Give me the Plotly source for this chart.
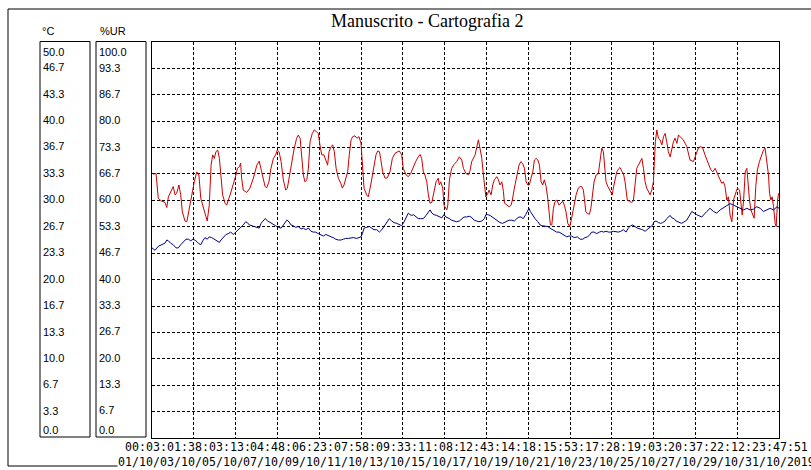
import pandas as pd
import plotly.graph_objects as go

W, H = 811, 470
PL, PR, PT, PB = 152, 779, 42, 438   # plot area in pixels

title = "Manuscrito - Cartografia 2"

# x-axis tick labels (date / time of each vertical grid line)
tick_dates = ["01/10/2019", "03/10/2019", "05/10/2019", "07/10/2019", "09/10/2019", "11/10/2019",
              "13/10/2019", "15/10/2019", "17/10/2019", "19/10/2019", "21/10/2019", "23/10/2019",
              "25/10/2019", "27/10/2019", "29/10/2019", "31/10/2019"]
tick_times = ["00:03:51", "01:38:47", "03:13:43", "04:48:39", "06:23:35", "07:58:31",
              "09:33:27", "11:08:23", "12:43:19", "14:18:15", "15:53:11", "17:28:07",
              "19:03:03", "20:37:59", "22:12:55", "23:47:51"]

temp_labels = ["0.0", "3.3", "6.7", "10.0", "13.3", "16.7", "20.0", "23.3",
               "26.7", "30.0", "33.3", "36.7", "40.0", "43.3", "46.7", "50.0"]
hum_labels = ["0.0", "6.7", "13.3", "20.0", "26.7", "33.3", "40.0", "46.7",
              "53.3", "60.0", "66.7", "73.3", "80.0", "86.7", "93.3", "100.0"]

# relative humidity (%UR), x = days since first reading
hum_day = [0.07, 0.20, 0.31, 0.48, 0.64, 0.73, 0.81, 0.92, 1.05, 1.14, 1.22, 1.33, 1.42, 1.50, 1.63, 1.72,
           1.84, 1.96, 2.09, 2.21, 2.32, 2.41, 2.51, 2.62, 2.73, 2.83, 2.92, 3.00, 3.08, 3.16, 3.25, 3.33,
           3.40, 3.49, 3.61, 3.69, 3.86, 4.02, 4.15, 4.22, 4.32, 4.38, 4.43, 4.51, 4.68, 4.84, 5.01, 5.18,
           5.30, 5.42, 5.59, 5.67, 5.78, 5.88, 6.00, 6.11, 6.19, 6.28, 6.38, 6.49, 6.61, 6.69, 6.79, 6.91,
           7.03, 7.15, 7.23, 7.32, 7.40, 7.48, 7.56, 7.65, 7.73, 7.81, 7.92, 8.02, 8.14, 8.22, 8.30, 8.39,
           8.50, 8.60, 8.68, 8.75, 8.85, 8.93, 9.01, 9.10, 9.21, 9.33, 9.41, 9.49, 9.57, 9.67, 9.75, 9.84,
           9.92, 10.03, 10.13, 10.23, 10.33, 10.40, 10.48, 10.61, 10.69, 10.81, 10.94, 11.07, 11.16, 11.24,
           11.30, 11.40, 11.52, 11.63, 11.76, 11.88, 12.01, 12.13, 12.22, 12.34, 12.42, 12.56, 12.67, 12.79,
           12.92, 13.03, 13.16, 13.25, 13.33, 13.41, 13.49, 13.58, 13.66, 13.74, 13.83, 13.94, 14.04, 14.15,
           14.20, 14.27, 14.37, 14.43, 14.50, 14.57, 14.62, 14.70, 14.81, 14.93, 15.06, 15.19, 15.31, 15.39,
           15.52, 15.64, 15.72, 15.80, 15.97, 16.05, 16.13, 16.21, 16.30, 16.38, 16.43, 16.50, 16.60, 16.66,
           16.76, 16.84, 16.92, 17.04, 17.12, 17.20, 17.29, 17.37, 17.42, 17.53, 17.65, 17.75, 17.81, 17.91,
           17.98, 18.08, 18.14, 18.23, 18.31, 18.41, 18.49, 18.57, 18.65, 18.73, 18.82, 18.90, 18.98, 19.07,
           19.15, 19.23, 19.31, 19.39, 19.48, 19.56, 19.62, 19.69, 19.76, 19.84, 19.92, 20.00, 20.12, 20.22,
           20.30, 20.38, 20.46, 20.55, 20.65, 20.74, 20.84, 20.91, 20.96, 21.07, 21.16, 21.24, 21.32, 21.37,
           21.44, 21.52, 21.62, 21.69, 21.78, 21.85, 21.95, 22.06, 22.14, 22.23, 22.31, 22.36, 22.44, 22.53,
           22.61, 22.67, 22.75, 22.80, 22.89, 22.97, 23.05, 23.13, 23.22, 23.30, 23.38, 23.43, 23.49, 23.59,
           23.71, 23.79, 23.87, 23.96, 24.04, 24.12, 24.21, 24.29, 24.37, 24.45, 24.54, 24.62, 24.70, 24.78,
           24.83, 24.88, 24.95, 25.03, 25.11, 25.20, 25.28, 25.36, 25.44, 25.52, 25.61, 25.69, 25.77, 25.85,
           25.94, 26.02, 26.10, 26.26, 26.43, 26.59, 26.76, 26.89, 27.00, 27.12, 27.22, 27.33, 27.45, 27.55,
           27.62, 27.72, 27.83, 27.91, 27.99, 28.08, 28.16, 28.24, 28.32, 28.41, 28.49, 28.57, 28.66, 28.74,
           28.87, 28.94, 29.04, 29.10, 29.17, 29.24, 29.32, 29.40, 29.45, 29.53, 29.60, 29.70, 29.76, 29.84,
           29.92, 30.02, 30.14, 30.22, 30.30, 30.39, 30.47, 30.52, 30.59, 30.65, 30.72, 30.80, 30.85, 30.92,
           30.97]
hum_val = [66.6, 66.8, 60.5, 59.8, 59.5, 58.2, 60.9, 62.2, 63.5, 61.4, 61.8, 63.9, 61.4, 57.1, 54.8, 54.6,
           58.0, 60.5, 64.7, 67.2, 66.4, 60.5, 58.8, 56.3, 54.8, 58.8, 68.9, 71.5, 70.6, 72.3, 72.7, 70.6,
           66.4, 61.4, 59.3, 58.8, 61.4, 63.9, 66.4, 68.1, 68.5, 69.4, 65.6, 62.6, 62.0, 63.1, 65.6, 68.9,
           69.9, 67.2, 63.5, 63.2, 64.7, 68.1, 70.6, 71.5, 72.7, 72.3, 69.8, 65.2, 62.6, 63.1, 66.4, 70.2,
           73.2, 75.7, 76.5, 75.7, 70.6, 66.4, 64.7, 65.2, 68.1, 74.8, 76.9, 77.8, 77.3, 76.9, 74.0, 71.5,
           71.5, 69.8, 68.9, 72.3, 73.6, 74.0, 72.3, 68.1, 65.6, 64.3, 63.1, 63.9, 65.6, 67.2, 71.5, 75.3,
           76.1, 76.3, 75.7, 76.1, 74.4, 68.9, 63.1, 61.4, 60.9, 63.9, 68.1, 71.5, 72.5, 72.3,
           70.6, 67.2, 65.6, 65.7, 67.2, 70.6, 71.9, 72.3, 72.5, 71.5, 68.1, 66.4, 66.0, 66.8,
           68.5, 69.8, 71.0, 71.6, 70.6, 67.2, 66.4, 64.7, 61.4, 59.3, 59.5, 62.6, 64.7, 65.6,
           63.9, 64.7, 63.1, 58.8, 58.0, 57.6, 58.8, 65.2, 68.1, 69.1, 69.8, 71.0, 70.2, 68.1,
           66.8, 66.5, 67.5, 69.8, 71.5, 73.6, 75.3, 73.2, 70.6, 66.4, 63.1, 60.9, 61.8, 62.6,
           61.4, 63.9, 65.2, 66.0, 65.2, 63.9, 64.7, 62.2, 59.3, 58.8, 58.4, 58.8, 60.1, 63.1,
           64.7, 67.7, 68.9, 69.8, 69.4, 68.1, 64.7, 63.9, 63.9, 65.6, 67.2, 70.2, 70.6, 70.2,
           68.9, 64.7, 63.9, 65.2, 63.5, 60.5, 57.1, 53.8, 53.8, 58.0, 59.7, 60.1, 58.8, 59.3,
           59.8, 58.8, 57.1, 54.2, 53.4, 55.5, 58.4, 60.1, 61.4, 63.1, 63.5, 63.5, 62.6, 60.5,
           57.1, 56.7, 56.5, 58.0, 61.4, 64.7, 66.4, 66.8, 69.8, 73.2, 72.3, 69.8, 64.7, 63.5,
           62.6, 62.2, 61.4, 63.1, 65.6, 67.2, 67.9, 68.3, 67.4, 66.8, 64.7, 62.2, 60.1, 59.8,
           59.5, 59.8, 64.7, 68.1, 68.9, 69.8, 70.6, 68.1, 64.7, 63.1, 62.2, 61.4, 62.6, 64.7,
           69.8, 74.8, 77.8, 75.7, 75.3, 74.0, 76.1, 76.9, 74.8, 72.3, 71.0, 73.2, 74.8, 75.7,
           74.4, 76.5, 76.1, 75.3, 73.6, 70.2, 69.8, 71.9, 73.2, 73.6, 73.2, 71.5, 69.8, 68.5,
           67.7, 67.2, 68.1, 67.2, 66.0, 65.2, 64.3, 64.7, 63.5, 60.1, 60.9, 56.3, 54.6, 60.1,
           62.2, 63.1, 62.6, 60.1, 56.3, 60.1, 67.2, 68.1, 64.3, 60.1, 57.6, 56.3, 55.5, 63.5,
           67.7, 69.8, 71.5, 72.7, 73.2, 70.2, 66.4, 61.8, 60.1, 60.9, 58.4, 54.2, 53.4, 60.1,
           61.8]

# temperature (°C), x = days since first reading
temp_day = [0.00, 0.15, 0.31, 0.48, 0.64, 0.73, 0.81, 0.92, 1.05, 1.19, 1.30, 1.42, 1.55, 1.68, 1.80, 1.91,
            2.04, 2.17, 2.29, 2.41, 2.51, 2.62, 2.73, 2.83, 2.95, 3.06, 3.20, 3.33, 3.41, 3.52, 3.66, 3.77,
            3.89, 4.02, 4.15, 4.27, 4.38, 4.51, 4.63, 4.71, 4.81, 4.93, 5.04, 5.18, 5.30, 5.39, 5.50, 5.59,
            5.72, 5.83, 6.00, 6.11, 6.24, 6.38, 6.44, 6.54, 6.66, 6.74, 6.87, 6.98, 7.10, 7.23, 7.37, 7.48,
            7.60, 7.73, 7.86, 7.97, 8.09, 8.22, 8.35, 8.47, 8.59, 8.72, 8.85, 8.96, 9.08, 9.21, 9.34, 9.46,
            9.57, 9.70, 9.84, 9.95, 10.12, 10.23, 10.33, 10.40, 10.48, 10.61, 10.74, 10.86, 10.97, 11.11,
            11.24, 11.36, 11.47, 11.60, 11.73, 11.85, 11.96, 12.10, 12.22, 12.34, 12.42, 12.56, 12.67, 12.75,
            12.84, 12.92, 13.05, 13.16, 13.28, 13.41, 13.54, 13.66, 13.74, 13.83, 13.94, 14.07, 14.20, 14.32,
            14.43, 14.53, 14.70, 14.81, 14.93, 15.06, 15.19, 15.31, 15.42, 15.55, 15.68, 15.77, 15.83, 15.93,
            16.05, 16.16, 16.30, 16.43, 16.50, 16.60, 16.71, 16.82, 16.95, 17.09, 17.20, 17.32, 17.42, 17.53,
            17.65, 17.78, 17.91, 18.03, 18.14, 18.24, 18.35, 18.47, 18.57, 18.63, 18.70, 18.80, 18.93, 19.07,
            19.18, 19.29, 19.43, 19.56, 19.67, 19.79, 19.89, 20.00, 20.12, 20.25, 20.38, 20.50, 20.61, 20.74,
            20.87, 21.02, 21.16, 21.29, 21.40, 21.52, 21.62, 21.73, 21.85, 21.98, 22.11, 22.23, 22.31, 22.44,
            22.56, 22.67, 22.80, 22.94, 23.05, 23.17, 23.30, 23.43, 23.54, 23.66, 23.76, 23.87, 23.99, 24.12,
            24.25, 24.37, 24.48, 24.62, 24.75, 24.81, 24.91, 25.03, 25.14, 25.24, 25.36, 25.44, 25.52, 25.61,
            25.69, 25.80, 25.90, 26.02, 26.10, 26.18, 26.43, 26.68, 26.92, 27.17, 27.42, 27.58, 27.75, 27.91,
            28.08, 28.32, 28.57, 28.74, 28.90, 29.07, 29.24, 29.40, 29.56, 29.73, 29.89, 30.06, 30.22, 30.39,
            30.55, 30.72, 30.89, 30.99]
temp_val = [24.0, 23.7, 24.2, 24.4, 24.6, 25.0, 24.9, 24.6, 24.4, 24.0, 24.0, 24.4, 24.7, 25.1, 25.1, 24.9,
            25.1, 24.9, 24.6, 24.4, 24.9, 25.3, 25.1, 25.4, 25.3, 25.1, 24.9, 24.7, 25.0, 25.3, 25.7, 25.8,
            26.0, 25.7, 26.0, 26.3, 26.5, 26.9, 27.3, 27.2, 26.9, 26.8, 26.7, 26.6, 26.5, 27.1, 27.5, 27.7,
            27.4, 27.2, 26.9, 26.8, 26.6, 26.5, 26.7, 27.1, 27.5, 27.4, 26.9, 26.8, 26.6, 26.7, 26.4, 26.5,
            26.3, 26.5, 26.1, 26.0, 26.0, 25.8, 25.6, 25.5, 25.7, 25.5, 25.4, 25.3, 25.1, 25.0, 25.0, 25.1,
            25.2, 25.2, 25.3, 25.3, 25.2, 25.3, 25.4, 25.8, 26.5, 26.6, 26.7, 26.5, 26.3, 26.3,
            26.0, 26.3, 26.7, 27.1, 27.7, 27.4, 27.2, 27.1, 26.9, 26.8, 27.1, 27.8, 28.4, 28.2,
            28.1, 28.2, 27.9, 27.7, 27.7, 27.7, 28.1, 28.6, 28.8, 28.4, 28.2, 28.1, 27.9, 27.8,
            28.2, 27.9, 27.7, 27.5, 27.4, 27.3, 27.4, 27.7, 27.9, 27.9, 28.0, 27.9, 27.7, 27.5,
            27.4, 27.3, 27.4, 27.7, 28.2, 28.2, 28.1, 27.9, 27.7, 27.4, 27.2, 27.1, 27.2, 27.4,
            27.5, 27.5, 27.4, 27.7, 27.9, 27.9, 27.7, 28.2, 28.8, 29.0, 28.6, 28.2, 27.7, 27.3,
            26.9, 26.8, 26.7, 26.7, 26.5, 26.3, 26.1, 26.0, 26.0, 25.8, 25.5, 25.4, 25.5, 25.5,
            25.3, 25.4, 25.1, 25.1, 25.3, 25.4, 25.6, 26.0, 26.0, 25.8, 26.0, 26.1, 26.0, 26.1,
            26.0, 26.0, 26.1, 26.0, 26.0, 26.1, 26.3, 26.0, 26.5, 26.8, 26.9, 26.7, 26.5, 26.4,
            26.3, 26.1, 26.3, 26.6, 26.9, 27.3, 27.4, 27.2, 27.1, 27.2, 27.4, 27.7, 27.9, 28.1,
            27.8, 27.7, 27.4, 27.3, 27.2, 27.1, 27.5, 28.6, 28.2, 27.9, 28.6, 29.0, 28.6, 28.4,
            28.8, 29.2, 29.6, 29.4, 29.2, 29.0, 28.8, 29.0, 28.8, 28.9, 29.2, 29.0, 28.6, 28.8,
            29.0, 28.8, 29.2, 29.0]


def px(x):
    # pixel column -> paper x
    return (x - PL) / (PR - PL)


def py(y):
    # pixel row -> paper y
    return (PB - y) / (PB - PT)


ticks = pd.to_datetime([d + " " + t for d, t in zip(tick_dates, tick_times)], format="%d/%m/%Y %H:%M:%S")
t0 = ticks[0]
hum_x = t0 + pd.to_timedelta(hum_day, unit="D")
temp_x = t0 + pd.to_timedelta(temp_day, unit="D")

fig = go.Figure()
fig.add_trace(go.Scatter(x=hum_x, y=hum_val, mode="lines", line=dict(color="#cc0000", width=1),
                         name="%UR", yaxis="y"))
fig.add_trace(go.Scatter(x=temp_x, y=temp_val, mode="lines", line=dict(color="#000080", width=1),
                         name="°C", yaxis="y2"))

grid = dict(showgrid=True, gridcolor="black", gridwidth=1, griddash="3px,2px",
            showline=True, mirror=True, linecolor="black", linewidth=1,
            zeroline=False, ticks="", showticklabels=False)

fig.update_layout(
    width=W, height=H,
    margin=dict(l=PL, r=W - PR, t=PT, b=H - PB),
    paper_bgcolor="white", plot_bgcolor="white",
    showlegend=False,
    xaxis=dict(type="date", range=[ticks[0], ticks[-1]], tickvals=list(ticks), **grid),
    yaxis=dict(range=[0, 100], tickvals=[float(v) for v in hum_labels], **grid),
    yaxis2=dict(range=[0, 50], overlaying="y", showgrid=False, showline=False, zeroline=False,
                showticklabels=False, ticks=""),
)

shapes = [
    dict(type="rect", xref="paper", yref="paper", x0=px(8), x1=px(840), y0=py(466), y1=py(9),
         line=dict(color="black", width=1)),
    dict(type="rect", xref="paper", yref="paper", x0=px(40), x1=px(90), y0=py(437), y1=py(41.5),
         line=dict(color="black", width=1)),
    dict(type="rect", xref="paper", yref="paper", x0=px(96), x1=px(146), y0=py(437), y1=py(41.5),
         line=dict(color="black", width=1)),
]
fig.update_layout(shapes=shapes)

ann = []
lab_font = dict(family="Liberation Sans, Arial, sans-serif", size=11, color="black")
for labels, ref, xpix in [(temp_labels, "y2", 41), (hum_labels, "y", 97)]:
    for i, lab in enumerate(labels):
        shift = 1
        if i == 0:
            shift = 8
        elif i == len(labels) - 1:
            shift = -10
        ann.append(dict(x=px(xpix), xref="paper", y=float(lab), yref=ref, text=lab,
                        xanchor="left", yanchor="middle", yshift=shift, showarrow=False,
                        font=lab_font))

ann.append(dict(x=px(40), xref="paper", y=py(31), yref="paper", text="°C", xanchor="left",
                yanchor="middle", showarrow=False, font=lab_font))
ann.append(dict(x=px(98), xref="paper", y=py(31), yref="paper", text="%UR", xanchor="left",
                yanchor="middle", showarrow=False, font=lab_font))
ann.append(dict(x=px(427), xref="paper", y=py(21), yref="paper", text=title, xanchor="center",
                yanchor="middle", showarrow=False,
                font=dict(family="Liberation Serif, Times New Roman, serif", size=18, color="black")))

# x labels: each one is clipped by the next, only the last is complete
mono = dict(family="DejaVu Sans Mono, monospace", size=11.6, color="black")
n = len(ticks)
for i, tk in enumerate(ticks):
    last = i == n - 1
    t_txt = tick_times[i] if last else tick_times[i][:6]
    d_txt = tick_dates[i] if last else tick_dates[i][:6]
    ann.append(dict(x=tk, xref="x", y=py(447), yref="paper", text=t_txt, xanchor="left",
                    yanchor="middle", xshift=-28, showarrow=False, font=mono, borderpad=0))
    ann.append(dict(x=tk, xref="x", y=py(462), yref="paper", text=d_txt, xanchor="left",
                    yanchor="middle", xshift=-35, showarrow=False, font=mono, borderpad=0,
                    bgcolor="white"))
fig.update_layout(annotations=ann)

# page body has an 8px default margin; drop it so the figure sits at the window corner
fig.write_html("out.html", config={"displayModeBar": False},
               post_script="document.body.style.margin='0';")
